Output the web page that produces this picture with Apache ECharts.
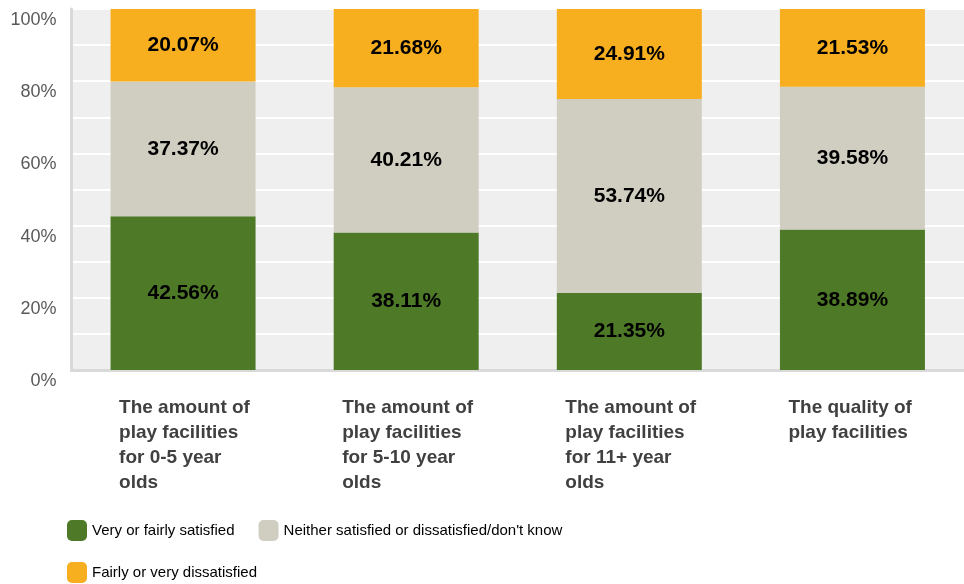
<!DOCTYPE html>
<html>
<head>
<meta charset="utf-8">
<style>
  html, body { margin: 0; padding: 0; background: #ffffff; }
  #chart { width: 964px; height: 584px; }
</style>
<script src="https://cdn.jsdelivr.net/npm/echarts@6/dist/echarts.min.js"></script>
</head>
<body>
<div id="chart"></div>
<script>
// Satisfaction with play facilities, share of respondents per question
const categories = [
  ['The amount of', 'play facilities', 'for 0-5 year', 'olds'],
  ['The amount of', 'play facilities', 'for 5-10 year', 'olds'],
  ['The amount of', 'play facilities', 'for 11+ year', 'olds'],
  ['The quality of', 'play facilities']
];
const satisfied = [42.56, 38.11, 21.35, 38.89];
const neither = [37.37, 40.21, 53.74, 39.58];
const dissatisfied = [20.07, 21.68, 24.91, 21.53];
const seriesNames = [
  'Very or fairly satisfied',
  'Neither satisfied or dissatisfied/don\'t know',
  'Fairly or very dissatisfied'
];
const yTicks = [0, 20, 40, 60, 80, 100];

const colors = ['#4e7a28', '#d0cec1', '#f7ae1f'];
const bodyFont = "'Liberation Sans', Arial, sans-serif";

const chart = echarts.init(document.getElementById('chart'), null, { renderer: 'canvas' });

function barSeries(name, data, color) {
  return {
    name: name,
    type: 'bar',
    stack: 'total',
    barWidth: 145,
    data: data,
    itemStyle: { color: color },
    label: {
      show: true,
      position: 'inside',
      formatter: p => p.value.toFixed(2) + '%',
      color: '#000000',
      fontFamily: bodyFont,
      fontWeight: 'bold',
      fontSize: 21
    }
  };
}

const legendText = { fontFamily: bodyFont, fontSize: 15, color: '#000000' };

chart.setOption({
  animation: false,
  color: colors,
  grid: {
    left: 71.5,
    top: 9,
    width: 904,
    bottom: 214,
    show: true,
    backgroundColor: '#efefef',
    borderWidth: 0
  },
  legend: [
    {
      data: seriesNames.slice(0, 2),
      left: 62,
      top: 515,
      orient: 'horizontal',
      itemWidth: 20,
      itemHeight: 21,
      itemGap: 24,
      icon: 'roundRect',
      textStyle: legendText
    },
    {
      data: seriesNames.slice(2),
      left: 62,
      top: 557,
      itemWidth: 20,
      itemHeight: 21,
      icon: 'roundRect',
      textStyle: legendText
    }
  ],
  xAxis: {
    type: 'category',
    data: categories.map(c => c.join('\n')),
    axisTick: { show: false },
    axisLine: { show: true, lineStyle: { color: '#d9d9d9', width: 3 } },
    axisLabel: {
      margin: 25,
      interval: 0,
      formatter: v => v.split('\n').map(s => '{a|' + s + '}').join('\n'),
      rich: {
        a: {
          width: 128,
          align: 'left',
          lineHeight: 25,
          fontFamily: bodyFont,
          fontWeight: 'bold',
          fontSize: 19,
          color: '#404040'
        }
      }
    }
  },
  yAxis: {
    type: 'value',
    min: yTicks[0],
    max: yTicks[yTicks.length - 1],
    interval: yTicks[1] - yTicks[0],
    axisLine: { show: true, lineStyle: { color: '#d9d9d9', width: 3 } },
    axisTick: { show: false },
    splitLine: { show: true, lineStyle: { color: '#ffffff', width: 2 } },
    minorTick: { show: false, splitNumber: 2 },
    minorSplitLine: { show: true, lineStyle: { color: '#ffffff', width: 2 } },
    axisLabel: {
      margin: 15,
      verticalAlign: 'top',
      lineHeight: 22,
      formatter: v => v + '%',
      fontFamily: bodyFont,
      fontSize: 18,
      color: '#595959'
    }
  },
  series: [
    barSeries(seriesNames[0], satisfied, colors[0]),
    barSeries(seriesNames[1], neither, colors[1]),
    barSeries(seriesNames[2], dissatisfied, colors[2])
  ]
});
</script>
</body>
</html>
